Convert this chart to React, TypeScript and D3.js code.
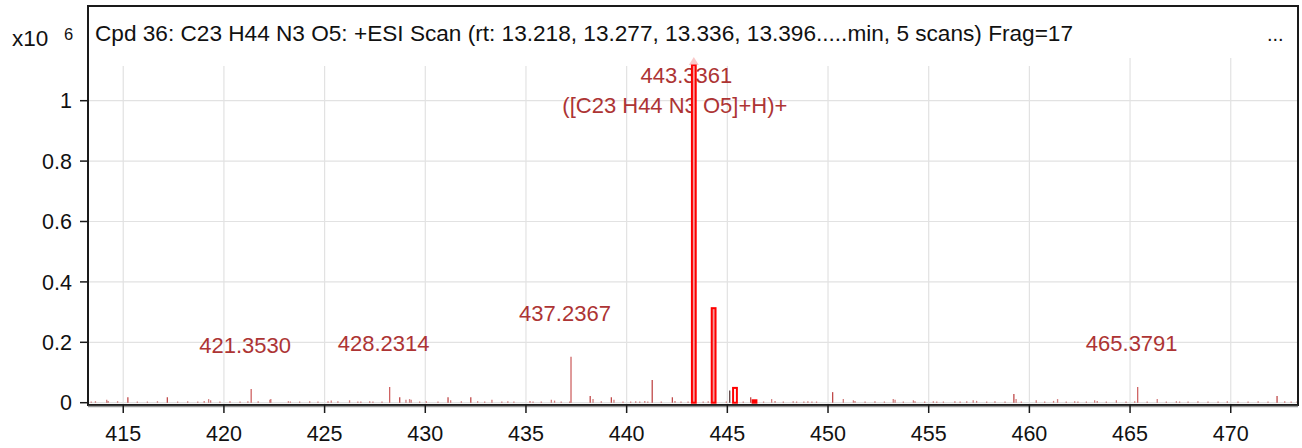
import React from 'react';
import * as d3 from 'd3';

// spectrum values, intensity in units of 10^6 counts
const titleText = 'Cpd 36: C23 H44 N3 O5: +ESI Scan (rt: 13.218, 13.277, 13.336, 13.396.....min, 5 scans) Frag=17';

const xTicks = [415, 420, 425, 430, 435, 440, 445, 450, 455, 460, 465, 470];
const yTicks = [0, 0.2, 0.4, 0.6, 0.8, 1];

// isotope cluster of the compound (drawn as boxes)
const isoMz = [443.3361, 444.32, 445.38, 446.35];
const isoIntensity = [1.118, 0.313, 0.049, 0.008];

// labelled single peaks
const labelMz = [421.353, 428.2314, 437.2367, 465.3791];
const labelIntensity = [0.045, 0.052, 0.152, 0.052];
const labelText = ['421.3530', '428.2314', '437.2367', '465.3791'];

const mainLabel = ['443.3361', '([C23 H44 N3 O5]+H)+'];

// small background peaks [m/z, intensity]
const noisePeaks: [number, number][] = [
  [413.41, 0.004], [413.62, 0.005], [414.18, 0.010], [414.25, 0.006], [414.72, 0.005],
  [415.23, 0.018], [415.7, 0.004], [416.2, 0.004], [416.7, 0.005], [417.19, 0.018],
  [417.7, 0.004], [418.2, 0.005], [418.7, 0.004], [419.02, 0.006], [419.24, 0.012],
  [419.34, 0.008], [419.8, 0.004], [420.3, 0.005], [420.8, 0.004], [421.19, 0.005],
  [421.7, 0.005], [422.28, 0.010], [422.33, 0.012], [423.2, 0.005], [423.3, 0.004],
  [423.76, 0.004], [424.26, 0.005], [424.67, 0.004], [425.17, 0.005], [425.33, 0.007],
  [425.66, 0.005], [426.24, 0.008], [426.65, 0.004], [426.8, 0.004], [427.24, 0.005],
  [427.4, 0.004], [427.85, 0.004], [428.73, 0.018], [429.04, 0.010], [429.22, 0.012],
  [429.3, 0.010], [429.72, 0.004], [430.05, 0.005], [430.63, 0.004], [431.13, 0.018],
  [431.26, 0.008], [431.79, 0.005], [432.26, 0.018], [432.6, 0.005], [432.95, 0.004],
  [433.31, 0.010], [433.8, 0.004], [434.1, 0.005], [434.4, 0.004], [435.2, 0.006],
  [435.35, 0.004], [435.76, 0.004], [436.26, 0.010], [436.42, 0.007], [436.75, 0.004],
  [437.17, 0.004], [438.19, 0.022], [438.33, 0.012], [438.74, 0.005], [439.24, 0.018],
  [439.37, 0.010], [439.82, 0.004], [440.2, 0.004], [440.45, 0.005], [440.65, 0.004],
  [440.9, 0.006], [441.05, 0.004], [441.27, 0.075], [441.72, 0.004], [442.27, 0.018],
  [442.4, 0.006], [442.7, 0.004], [443.05, 0.004], [443.8, 0.004], [444.05, 0.005],
  [444.95, 0.004], [445.79, 0.004], [446.16, 0.018], [446.8, 0.004],
  [447.2, 0.012], [447.37, 0.006], [447.78, 0.004], [448.27, 0.005], [448.44, 0.004],
  [448.8, 0.004], [449.0, 0.005], [449.2, 0.004], [449.43, 0.004], [450.23, 0.035],
  [450.76, 0.012], [451.26, 0.008], [451.34, 0.006], [451.84, 0.004], [452.33, 0.005],
  [452.8, 0.004], [453.24, 0.012], [453.33, 0.010], [453.74, 0.004], [454.24, 0.008],
  [454.32, 0.005], [454.8, 0.004], [455.23, 0.005], [455.4, 0.004], [455.73, 0.004],
  [456.3, 0.005], [456.56, 0.004], [456.89, 0.005], [457.21, 0.008], [457.38, 0.006],
  [457.88, 0.004], [458.29, 0.005], [458.79, 0.004], [459.23, 0.029], [459.34, 0.012],
  [459.6, 0.004], [460.34, 0.008], [460.76, 0.004], [461.2, 0.006], [461.4, 0.012],
  [461.83, 0.004], [462.25, 0.005], [462.41, 0.004], [462.83, 0.004], [463.24, 0.008],
  [463.37, 0.006], [463.82, 0.004], [464.32, 0.008], [464.8, 0.004], [465.23, 0.005],
  [465.85, 0.004], [466.35, 0.012], [466.8, 0.004], [467.3, 0.005], [467.46, 0.004],
  [467.88, 0.004], [468.37, 0.005], [468.87, 0.004], [469.37, 0.004], [469.83, 0.005],
  [470.36, 0.004], [470.86, 0.004], [471.36, 0.005], [471.85, 0.004], [472.3, 0.022],
  [472.68, 0.005], [473.0, 0.004], [473.3, 0.005],
];

// the dark centroid line next to the 445 isotope
const darkPeak: [number, number] = [445.12, 0.04];

const W = 1302;
const H = 448;
const left = 88;
const right = 1298;
const top = 6;
const bottom = 405;

const font = '"Liberation Sans", Arial, sans-serif';
const labelColor = '#ad3434';

const App: React.FC = () => {
  const x = d3.scaleLinear().domain([413.25, 473.34]).range([left, right]);
  const y = d3.scaleLinear().domain([0, 1]).range([402.7, 100.7]);

  const isoStyle = [
    { fill: '#f29a9a', stroke: '#ff0000' },
    { fill: '#f29a9a', stroke: '#ff0000' },
    { fill: '#ffffff', stroke: '#ff0000' },
    { fill: '#ff0000', stroke: '#ff0000' },
  ];

  const mainX = x(isoMz[0]);
  const mainTop = y(isoIntensity[0]);

  return (
    <svg width={W} height={H} style={{ position: 'absolute', left: 0, top: 0 }} fontFamily={font}>
      <rect x={0} y={0} width={W} height={H} fill="#fff" />

      {/* grid */}
      {yTicks.map(t => (
        <line key={'gy' + t} x1={left} x2={right} y1={y(t)} y2={y(t)} stroke="#e2e2e2" strokeWidth={1.2} />
      ))}
      {xTicks.map(t => (
        <line key={'gx' + t} x1={x(t)} x2={x(t)} y1={58} y2={bottom} stroke="#e2e2e2" strokeWidth={1.2} />
      ))}

      {/* title */}
      <rect x={left + 2} y={10} width={992} height={56} fill="#fff" />
      <text x={95} y={40.7} fontSize={22.5} fill="#111" textLength={978} lengthAdjust="spacingAndGlyphs">{titleText}</text>
      <text x={1267} y={41} fontSize={20} fill="#111">...</text>

      {/* y exponent */}
      <text x={12} y={46} fontSize={22.5} fill="#111">x10</text>
      <text x={64} y={40} fontSize={16.5} fill="#111">6</text>

      {/* peak labels */}
      {labelMz.map((m, i) => (
        <text key={'lb' + i} x={x(m) - 6} y={y(labelIntensity[i]) - 36} fontSize={22}
          textAnchor="middle" fill={labelColor}>{labelText[i]}</text>
      ))}
      <text x={mainX - 7.5} y={83.3} fontSize={22} textAnchor="middle" fill={labelColor}>{mainLabel[0]}</text>
      <text x={mainX - 19} y={112.7} fontSize={22} textAnchor="middle" fill={labelColor}>{mainLabel[1]}</text>

      {/* noise */}
      {noisePeaks.map(([m, v], i) => (
        <line key={'n' + i} x1={x(m)} x2={x(m)} y1={y(0)} y2={y(v)}
          stroke="#b52a2a" strokeOpacity={v > 0.015 ? 0.85 : 0.6} strokeWidth={1.3} />
      ))}
      {labelMz.map((m, i) => (
        <line key={'lp' + i} x1={x(m)} x2={x(m)} y1={y(0)} y2={y(labelIntensity[i])}
          stroke="#c23a3a" strokeOpacity={0.85} strokeWidth={1.2} />
      ))}
      <line x1={x(darkPeak[0])} x2={x(darkPeak[0])} y1={y(0)} y2={y(darkPeak[1])} stroke="#4a3030" strokeWidth={1.2} />

      {/* isotope boxes */}
      {isoMz.map((m, i) => (
        <rect key={'iso' + i} x={x(m) - 1.9} y={y(isoIntensity[i])} width={3.8}
          height={y(0) - y(isoIntensity[i])} fill={isoStyle[i].fill} stroke={isoStyle[i].stroke} strokeWidth={2} />
      ))}
      <path d={`M${mainX},${mainTop - 8} L${mainX + 5},${mainTop} L${mainX - 5},${mainTop} Z`} fill="#f5a5a5" fillOpacity={0.6} />

      {/* frame */}
      <rect x={left} y={top} width={right - left} height={bottom - top} fill="none" stroke="#1a1a1a" strokeWidth={2} />
      <line x1={left} x2={right} y1={bottom + 1.5} y2={bottom + 1.5} stroke="#999" strokeWidth={1.5} />

      {/* y axis */}
      {yTicks.map(t => (
        <g key={'yt' + t}>
          <line x1={80} x2={left} y1={y(t)} y2={y(t)} stroke="#1a1a1a" strokeWidth={1.5} />
          <text x={72} y={y(t)} dy="0.36em" fontSize={21.5} textAnchor="end" fill="#111">{d3.format('~g')(t)}</text>
        </g>
      ))}

      {/* x axis */}
      {xTicks.map(t => (
        <g key={'xt' + t}>
          <line x1={x(t)} x2={x(t)} y1={bottom} y2={413} stroke="#1a1a1a" strokeWidth={1.5} />
          <text x={x(t)} y={441} fontSize={21.5} textAnchor="middle" fill="#111">{t}</text>
        </g>
      ))}
    </svg>
  );
};

export default App;
